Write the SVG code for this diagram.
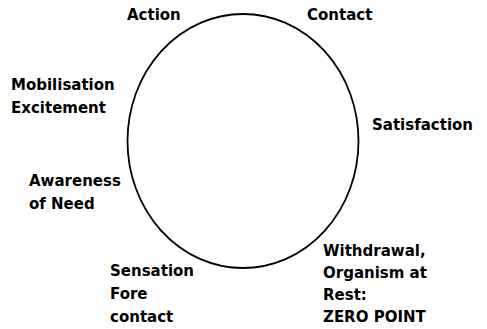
<svg xmlns="http://www.w3.org/2000/svg" width="487" height="329" viewBox="0 0 487 329">
<style>
.l{font-family:"DejaVu Sans",Verdana,sans-serif;font-weight:bold;font-size:15px;fill:#000}
.c{fill:none;stroke:#000;stroke-width:1.8}
</style>
<rect width="487" height="329" fill="#fff"/>
<g id="connectors">
<ellipse class="c" cx="243" cy="141" rx="115.5" ry="127"/>
</g>
<g id="action"><text class="l" x="127" y="20">Action</text></g>
<g id="contact"><text class="l" x="307" y="20">Contact</text></g>
<g id="satisfaction"><text class="l" x="372" y="130">Satisfaction</text></g>
<g id="mobilisation"><text class="l" x="11" y="90">Mobilisation<tspan x="11" dy="23">Excitement</tspan></text></g>
<g id="awareness"><text class="l" x="29" y="186">Awareness<tspan x="29" dy="23">of Need</tspan></text></g>
<g id="sensation"><text class="l" x="110" y="276">Sensation<tspan x="110" dy="23">Fore</tspan><tspan x="110" dy="23">contact</tspan></text></g>
<g id="withdrawal"><text class="l" x="323" y="256">Withdrawal,<tspan x="323" dy="22">Organism at</tspan><tspan x="323" dy="22">Rest:</tspan><tspan x="323" dy="22">ZERO POINT</tspan></text></g>
</svg>
